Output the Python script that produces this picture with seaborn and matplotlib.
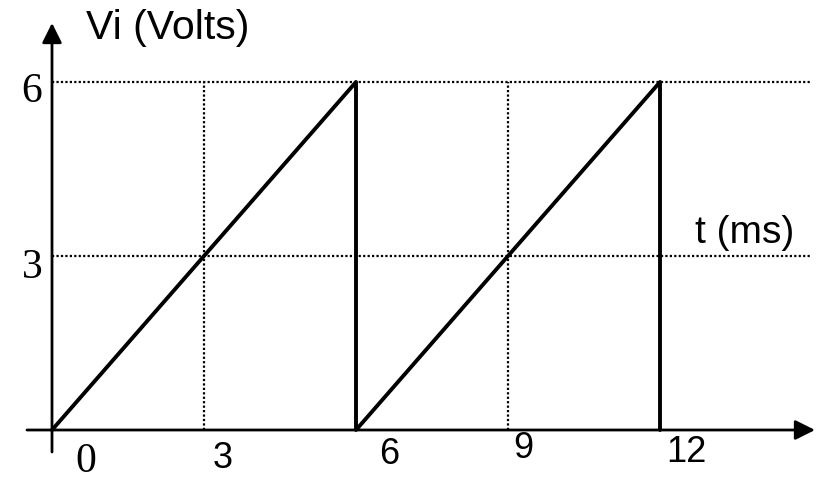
import numpy as np
import pandas as pd
import matplotlib.pyplot as plt
import seaborn as sns

# sawtooth corners (t in ms, Vi in volts)
t_ms = [0, 6, 6, 12, 12]
vi_volts = [0, 6, 0, 6, 0]

grid_t = [3, 6, 9, 12]
grid_v = [3, 6]
y_ticks = ["3", "6"]
x_ticks = ["3", "6", "9", "12"]

df = pd.DataFrame({'t': t_ms, 'vi': vi_volts})

sns.set_style('white')

fig = plt.figure(figsize=(8.31, 4.8), dpi=100)
ax = fig.add_axes([0, 0, 1, 1])

# pixel -> data mapping of the reference (0 at x=52px, 12 at 660px; 0 at y=430px, 6 at 82px)
sx = (660 - 52) / 12
sy = (430 - 82) / 6
ax.set_xlim(-52 / sx, (831 - 52) / sx)
ax.set_ylim(-(480 - 430) / sy, 430 / sy)
ax.set_axis_off()

def px(x, y):
    return (x - 52) / sx, (430 - y) / sy

# dotted grid
for v in grid_v:
    ax.plot([0, px(812, 0)[0]], [v, v], color='black', lw=1.6, ls=(0, (1, 1.0)), zorder=1)
for t in grid_t:
    ax.plot([t, t], [0, 6], color='black', lw=1.6, ls=(0, (1, 1.0)), zorder=1)

# axes with arrows
x0, _ = px(27, 0)
x1, _ = px(815, 0)
_, y0 = px(0, 452)
_, y1 = px(0, 23)
ax.annotate('', xy=(x1, 0), xytext=(x0, 0),
            arrowprops=dict(arrowstyle='-|>', lw=2.0, color='black', mutation_scale=30,
                            shrinkA=0, shrinkB=0), zorder=3)
ax.annotate('', xy=(0, y1), xytext=(0, y0),
            arrowprops=dict(arrowstyle='-|>', lw=2.0, color='black', mutation_scale=30,
                            shrinkA=0, shrinkB=0), zorder=3)

# signal
sns.lineplot(data=df, x='t', y='vi', sort=False, estimator=None, color='black',
             lw=2.8, ax=ax, zorder=4)
ax.set_axis_off()

serif = ['Liberation Serif', 'DejaVu Serif']
sans = ['Liberation Sans', 'DejaVu Sans']

# left tick labels (serif)
for lab, ypx in zip(y_ticks, [268, 92]):
    ax.text(*px(32, ypx), lab, family=serif, fontsize=30, ha='center', va='center', color='black')
ax.text(*px(86, 462), "0", family=serif, fontsize=30, ha='center', va='center', color='black')

# bottom tick labels (sans)
for lab, (xp, yp) in zip(x_ticks, [(223, 458), (389, 455), (523, 449), (686, 452)]):
    ax.text(*px(xp, yp), lab, family=sans, fontsize=26, ha='center', va='center', color='black')

ax.text(*px(168, 28), "Vi (Volts)", family=sans, fontsize=29.5, ha='center', va='center', color='black')
ax.text(*px(745, 233), "t (ms)", family=sans, fontsize=28, ha='center', va='center', color='black')

plt.savefig('out.png', dpi=100)
